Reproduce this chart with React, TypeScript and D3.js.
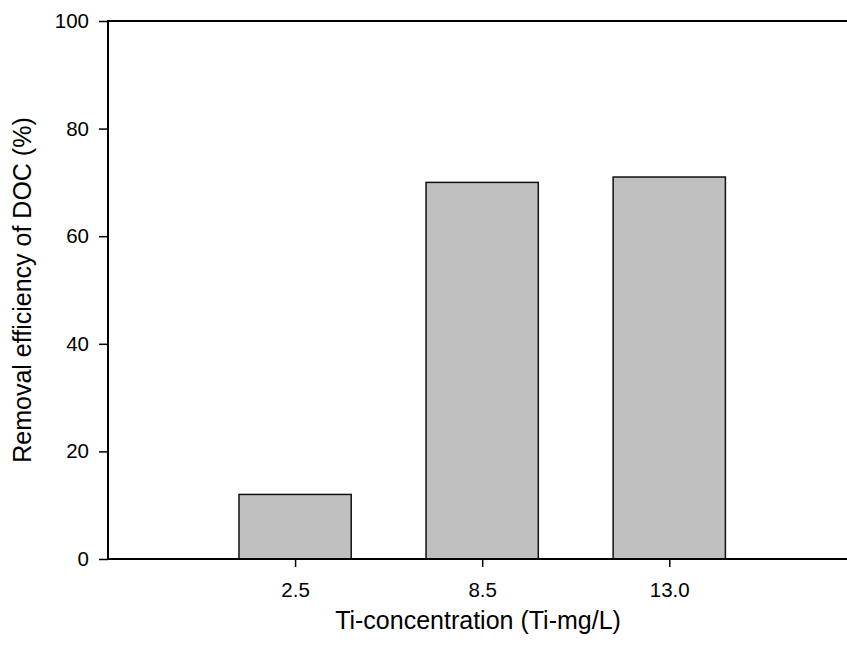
import { useEffect, useRef } from 'react'
import * as d3 from 'd3'

const categories = ['2.5', '8.5', '13.0']
const removal = [12, 70, 71]
const yTicks = [0, 20, 40, 60, 80, 100]

export default function App() {
  const ref = useRef<SVGSVGElement>(null)

  useEffect(() => {
    const width = 847
    const height = 646
    const left = 108
    const top = 21
    const right = 847
    const bottom = 559

    const svg = d3.select(ref.current)
    svg.selectAll('*').remove()

    const x = d3.scaleLinear().domain([0, 3.95]).range([left, right])
    const y = d3.scaleLinear().domain([0, 100]).range([bottom, top])
    const barW = x(0.6) - x(0)

    const font = 'Liberation Sans, Arial, sans-serif'

    // bars
    svg.append('g')
      .selectAll('rect')
      .data(removal)
      .join('rect')
      .attr('x', (_, i) => x(i + 1) - barW / 2)
      .attr('y', d => y(d))
      .attr('width', barW)
      .attr('height', d => y(0) - y(d))
      .attr('fill', '#c0c0c0')
      .attr('stroke', '#111')
      .attr('stroke-width', 1.5)

    // frame: left, top, bottom
    const frame = svg.append('g').attr('stroke', '#000').attr('stroke-width', 2)
    frame.append('line').attr('x1', left).attr('x2', left).attr('y1', top - 1).attr('y2', bottom + 1)
    frame.append('line').attr('x1', left).attr('x2', right).attr('y1', top).attr('y2', top)
    frame.append('line').attr('x1', left).attr('x2', right).attr('y1', bottom).attr('y2', bottom)

    // y axis
    const yAxis = svg.append('g')
      .attr('transform', `translate(${left},0)`)
      .call(d3.axisLeft(y).tickValues(yTicks).tickSize(9).tickPadding(10).tickFormat(d3.format('d')))
    yAxis.select('.domain').remove()
    yAxis.selectAll('line').attr('stroke', '#000').attr('stroke-width', 1.5)
    yAxis.selectAll('text').attr('font-family', font).attr('font-size', 20.5).attr('fill', '#000')

    // x axis
    const xAxis = svg.append('g')
      .attr('transform', `translate(0,${bottom})`)
      .call(d3.axisBottom(x).tickValues([1, 2, 3]).tickSize(8).tickPadding(15)
        .tickFormat((_, i) => categories[i]))
    xAxis.select('.domain').remove()
    xAxis.selectAll('line').attr('stroke', '#000').attr('stroke-width', 1.5)
    xAxis.selectAll('text').attr('font-family', font).attr('font-size', 20.5).attr('fill', '#000')

    // titles
    svg.append('text')
      .attr('x', 478)
      .attr('y', 629)
      .attr('text-anchor', 'middle')
      .attr('font-family', font)
      .attr('font-size', 25)
      .text('Ti-concentration (Ti-mg/L)')

    svg.append('text')
      .attr('transform', `translate(31,${(top + bottom) / 2}) rotate(-90)`)
      .attr('text-anchor', 'middle')
      .attr('font-family', font)
      .attr('font-size', 25)
      .text('Removal efficiency of DOC (%)')

    svg.attr('width', width).attr('height', height)
  }, [])

  return (
    <div style={{ position: 'absolute', left: 0, top: 0, background: '#fff' }}>
      <svg ref={ref} width={847} height={646} style={{ display: 'block' }} />
    </div>
  )
}
